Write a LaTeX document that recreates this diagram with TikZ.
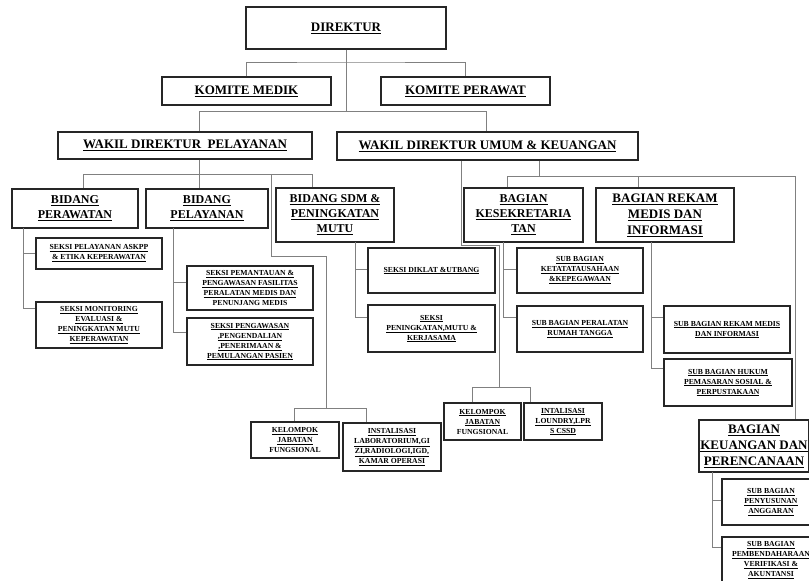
\documentclass[tikz,border=0pt]{standalone}
\usepackage{fontspec}
\setmainfont{Liberation Serif}
\usepackage{tikz}
\newcommand{\uln}[1]{\underline{#1}}

\begin{document}
\begin{tikzpicture}[x=1pt, y=-1pt,
  box/.style={draw=black!85, line width=1.2pt, fill=white, align=center, inner sep=1pt},
  bigtxt/.style={font=\fontsize{13}{16}\selectfont\bfseries},
  midtxt/.style={font=\fontsize{12}{15}\selectfont\bfseries},
  smalltxt/.style={font=\fontsize{7.7}{10}\selectfont\bfseries},
  link/.style={draw=black!50, line width=0.8pt}]
  \useasboundingbox (0,0) rectangle (809,581);

  \node[box, bigtxt, minimum width=200, minimum height=42] (dir) at (346,28) {\uln{DIREKTUR}};
  \node[box, bigtxt, minimum width=169, minimum height=28] (kmed) at (246.5,91) {\uln{KOMITE MEDIK}};
  \node[box, bigtxt, minimum width=169, minimum height=28] (kper) at (465.5,91) {\uln{KOMITE PERAWAT}};
  \node[box, bigtxt, minimum width=254, minimum height=27] (wdp) at (185,145.5) {\uln{WAKIL DIREKTUR\ \ PELAYANAN}};
  \node[box, bigtxt, minimum width=301, minimum height=28] (wdu) at (487.5,146) {\uln{WAKIL DIREKTUR UMUM \& KEUANGAN}};

  \node[box, midtxt, minimum width=126, minimum height=39] (bper) at (75,208.5) {\uln{BIDANG}\\\uln{PERAWATAN}};
  \node[box, midtxt, minimum width=122, minimum height=39] (bpel) at (207,208.5) {\uln{BIDANG}\\\uln{PELAYANAN}};
  \node[box, midtxt, minimum width=118, minimum height=54] (bsdm) at (335,215) {\uln{BIDANG SDM \&}\\\uln{PENINGKATAN}\\\uln{MUTU}};
  \node[box, midtxt, minimum width=119, minimum height=54] (bsek) at (523.5,215) {\uln{BAGIAN}\\\uln{KESEKRETARIA}\\\uln{TAN}};
  \node[box, bigtxt, minimum width=138, minimum height=54] (brek) at (665,215) {\uln{BAGIAN REKAM}\\\uln{MEDIS DAN}\\\uln{INFORMASI}};
  \node[box, bigtxt, minimum width=110, minimum height=52] (bkeu) at (754,446) {\uln{BAGIAN}\\\uln{KEUANGAN DAN}\\\uln{PERENCANAAN}};

  \node[box, smalltxt, minimum width=126, minimum height=31] (s_askpp) at (99,253.5) {\uln{SEKSI PELAYANAN ASKPP}\\\uln{\& ETIKA KEPERAWATAN}};
  \node[box, smalltxt, minimum width=126, minimum height=46] (s_mon) at (99,325) {\uln{SEKSI MONITORING}\\\uln{EVALUASI \&}\\\uln{PENINGKATAN MUTU}\\\uln{KEPERAWATAN}};
  \node[box, smalltxt, minimum width=126, minimum height=44] (s_pem) at (250,288) {\uln{SEKSI PEMANTAUAN \&}\\\uln{PENGAWASAN FASILITAS}\\\uln{PERALATAN MEDIS DAN}\\PENUNJANG MEDIS};
  \node[box, smalltxt, minimum width=126, minimum height=47] (s_peng) at (250,341.5) {\uln{SEKSI PENGAWASAN}\\\uln{,PENGENDALIAN}\\\uln{,PENERIMAAN \&}\\\uln{PEMULANGAN PASIEN}};
  \node[box, smalltxt, minimum width=127, minimum height=45] (s_dik) at (431.5,270.5) {\uln{SEKSI DIKLAT \&UTBANG}};
  \node[box, smalltxt, minimum width=127, minimum height=47] (s_pen) at (431.5,328.5) {\uln{SEKSI}\\\uln{PENINGKATAN,MUTU \&}\\\uln{KERJASAMA}};
  \node[box, smalltxt, minimum width=126, minimum height=45] (sb_tu) at (580,270.5) {\uln{SUB BAGIAN}\\\uln{KETATATAUSAHAAN}\\\uln{\&KEPEGAWAAN}};
  \node[box, smalltxt, minimum width=126, minimum height=46] (sb_rt) at (580,329) {\uln{SUB BAGIAN PERALATAN}\\\uln{RUMAH TANGGA}};
  \node[box, smalltxt, minimum width=126, minimum height=47] (sb_rm) at (727,329.5) {\uln{SUB BAGIAN REKAM MEDIS}\\\uln{DAN INFORMASI}};
  \node[box, smalltxt, minimum width=128, minimum height=47] (sb_hk) at (728,382.5) {\uln{SUB BAGIAN HUKUM}\\\uln{PEMASARAN SOSIAL \&}\\\uln{PERPUSTAKAAN}};
  \node[box, smalltxt, minimum width=98, minimum height=46] (sb_ang) at (771,502) {\uln{SUB BAGIAN}\\\uln{PENYUSUNAN}\\\uln{ANGGARAN}};
  \node[box, smalltxt, minimum width=98, minimum height=46] (sb_ben) at (771,560) {\uln{SUB BAGIAN}\\\uln{PEMBENDAHARAAN}\\\uln{VERIFIKASI \&}\\\uln{AKUNTANSI}};

  \node[box, smalltxt, minimum width=88, minimum height=36] (kel1) at (295,440) {\uln{KELOMPOK}\\\uln{JABATAN}\\FUNGSIONAL};
  \node[box, smalltxt, minimum width=98, minimum height=48] (inst1) at (392,447) {\uln{INSTALISASI}\\\uln{LABORATORIUM,GI}\\\uln{ZI,RADIOLOGI,IGD,}\\\uln{KAMAR OPERASI}};
  \node[box, smalltxt, minimum width=77, minimum height=37] (kel2) at (482.5,421.5) {\uln{KELOMPOK}\\\uln{JABATAN}\\FUNGSIONAL};
  \node[box, smalltxt, minimum width=78, minimum height=37] (inst2) at (563,421.5) {\uln{INTALISASI}\\\uln{LOUNDRY,LPR}\\\uln{S CSSD}};

  \coordinate (kb) at (346,62);
  \coordinate (wl) at (199,111);
  \coordinate (wr) at (486,111);
  \draw[link] (dir) -- (dir |- wl);
  \draw[link] (kmed) |- (kb) -| (kper);
  \draw[link] (wl) -- (wr);
  \draw[link] (wl) -- (wl |- wdp.north);
  \draw[link] (wr) -- (wr |- wdu.north);

  \coordinate (bl) at (83,174);
  \coordinate (br) at (312,174);
  \draw[link] (bl) -- (br);
  \draw[link] (wl |- wdp.south) -- (wl |- bpel.north);
  \draw[link] (bl) -- (bl |- bper.north);
  \draw[link] (br) -- (br |- bsdm.north);

  \coordinate (ka) at (271,174);
  \coordinate (kt) at (326,256);
  \coordinate (kc) at (326,408);
  \coordinate (kl) at (294,408);
  \coordinate (kr) at (366,408);
  \draw[link] (ka) |- (kt) -- (kc);
  \draw[link] (kl) -- (kr);
  \draw[link] (kl) -- (kl |- kel1.north);
  \draw[link] (kr) -- (kr |- inst1.north);

  \coordinate (pv) at (23,228);
  \draw[link] (pv) |- ([yshift=17pt]s_mon.west);
  \draw[link] (pv) |- (s_askpp.west);
  \coordinate (lv) at (173,228);
  \draw[link] (lv) |- ([yshift=9.5pt]s_peng.west);
  \draw[link] (lv) |- ([yshift=6pt]s_pem.west);
  \coordinate (sv) at (355,242);
  \draw[link] (sv) |- ([yshift=11.5pt]s_pen.west);
  \draw[link] (sv) |- ([yshift=1.5pt]s_dik.west);
  \coordinate (ev) at (503,242);
  \draw[link] (ev) |- ([yshift=12pt]sb_rt.west);
  \draw[link] (ev) |- ([yshift=1.5pt]sb_tu.west);
  \coordinate (rv) at (651,242);
  \draw[link] (rv) |- ([yshift=14.5pt]sb_hk.west);
  \draw[link] (rv) |- ([yshift=12.5pt]sb_rm.west);
  \coordinate (fv) at (712,472);
  \draw[link] (fv) |- ([yshift=13pt]sb_ben.west);
  \draw[link] (fv) |- ([yshift=2pt]sb_ang.west);

  \coordinate (gl) at (507,176);
  \coordinate (gm) at (539,176);
  \coordinate (gb) at (638,176);
  \coordinate (gr) at (795,176);
  \draw[link] (gm |- wdu.south) -- (gm);
  \draw[link] (gl |- bsek.north) -- (gl) -- (gr) -- (gr |- bkeu.north);
  \draw[link] (gb) -- (gb |- brek.north);

  \coordinate (ua) at (461,245);
  \coordinate (uc) at (499,387);
  \coordinate (ul) at (472,387);
  \coordinate (ur) at (530,387);
  \draw[link] (ua |- wdu.south) -- (ua) -| (uc);
  \draw[link] (ul |- kel2.north) -- (ul) -- (ur) -- (ur |- inst2.north);
\end{tikzpicture}
\end{document}
